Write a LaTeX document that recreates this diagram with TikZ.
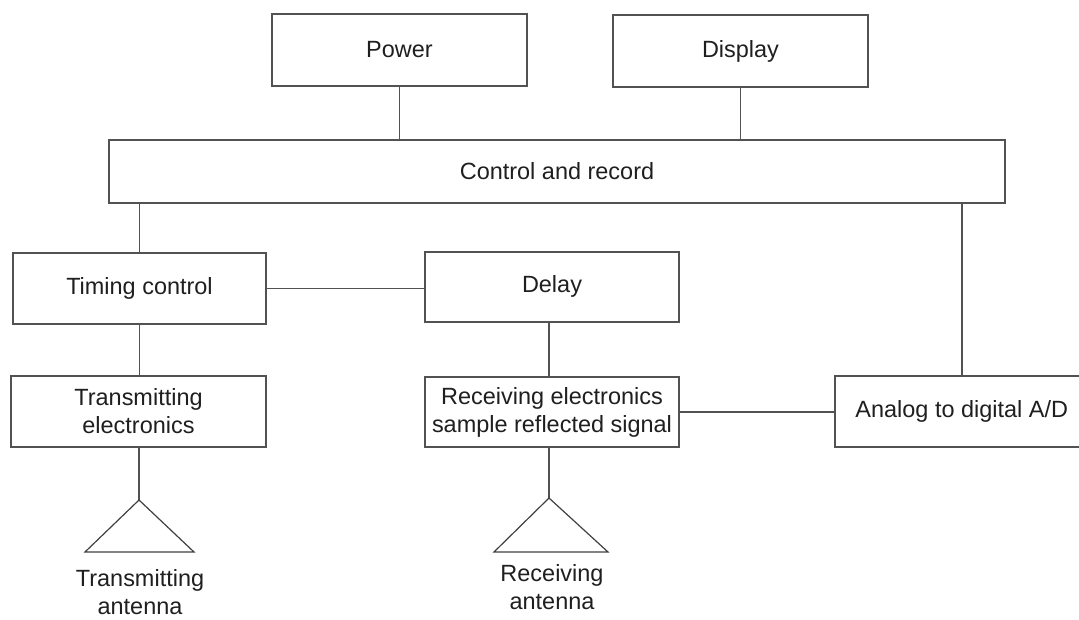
\documentclass[tikz,border=0pt]{standalone}
\usepackage{fontspec}
\setmainfont{Liberation Sans}
\begin{document}
\begin{tikzpicture}[x=0.75pt,y=-0.75pt,
  every node/.style={text=black!88, font=\fontsize{17.6}{21}\selectfont},
  blockbox/.style={draw=black!68, line width=1.15pt, fill=white, align=center, inner sep=0pt},
  link/.style={draw=black!68, line width=1.15pt},
  antenna/.style={draw=black!75, line width=0.9pt, line join=miter}]
\useasboundingbox (0,0) rectangle (1079,619);

% upper blocks
\node[blockbox, minimum width=191.25pt, minimum height=54pt] (power) at (399.5,50) {Power};
\node[blockbox, minimum width=191.25pt, minimum height=54pt] (display) at (740.5,51) {Display};
\node[blockbox, minimum width=672pt, minimum height=47.25pt] (ctrl) at (557,171.5) {Control and record};

% middle row
\node[blockbox, minimum width=189.75pt, minimum height=53.25pt] (timing) at (139.5,288.5) {Timing control};
\node[blockbox, minimum width=190.5pt, minimum height=52.5pt, text depth=4pt] (delay) at (552,287) {Delay};

% lower row
\node[blockbox, minimum width=191.25pt, minimum height=53.25pt] (trans) at (138.5,411.5) {Transmitting\\electronics};
\node[blockbox, minimum width=190.5pt, minimum height=52.5pt] (recv) at (552,412) {Receiving electronics\\sample reflected signal};
% the converter box runs off the right edge of the sheet
\node[blockbox, anchor=west, minimum width=199.5pt, minimum height=53.25pt, align=left] (ad) at (834,411.5) {\kern-9pt Analog to digital A/D};

% antenna apexes
\coordinate (txa) at (139,500);
\coordinate (rxa) at (549,498);

% connectors
\draw[link] (power.south) -- (power.south |- ctrl.north);
\draw[link] (display.south) -- (display.south |- ctrl.north);
\draw[link] (timing.north) -- (timing.north |- ctrl.south);
\draw[link] ([xshift=96pt]ad.north west) -- ([xshift=96pt]ad.north west |- ctrl.south);
\draw[link] (timing.east) -- (timing.east -| delay.west);
\draw[link] (timing.south) -- (timing.south |- trans.north);
\draw[link] ([xshift=-2.25pt]delay.south) -- ([xshift=-2.25pt]delay.south |- recv.north);
\draw[link] (recv.east) -- (recv.east -| ad.west);
\draw[link] (txa |- trans.south) -- (txa);
\draw[link] (rxa |- recv.south) -- (rxa);

% antenna symbols
\draw[antenna] (txa) -- ++(-54,52) -- ++(109,0) -- cycle;
\draw[antenna] (rxa) -- ++(-55,54) -- ++(114,0) -- cycle;

% antenna labels
\node[align=center] (txlabel) at (140,592) {Transmitting\\antenna};
\node[align=center] (rxlabel) at (552,587) {Receiving\\antenna};
\end{tikzpicture}
\end{document}
